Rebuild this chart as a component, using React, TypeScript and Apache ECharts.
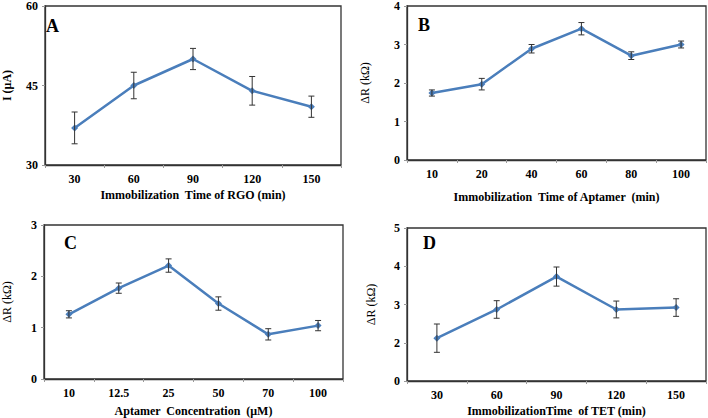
import React, { useEffect, useRef } from "react";
import * as echarts from "echarts";

const catsA = ["30", "60", "90", "120", "150"];
const valsA = [37, 45, 50, 44, 41];
const errA = [3, 2.5, 2, 2.7, 2];

const catsB = ["10", "20", "40", "60", "80", "100"];
const valsB = [1.74, 1.97, 2.89, 3.41, 2.71, 3.0];
const errB = [0.08, 0.15, 0.11, 0.16, 0.1, 0.09];

const catsC = ["10", "12.5", "25", "50", "70", "100"];
const valsC = [1.26, 1.77, 2.21, 1.47, 0.87, 1.04];
const errC = [0.07, 0.1, 0.13, 0.13, 0.11, 0.1];

const catsD = ["30", "60", "90", "120", "150"];
const valsD = [2.12, 2.87, 3.73, 2.87, 2.92];
const errD = [0.37, 0.23, 0.25, 0.22, 0.23];

const BLUE = "#4a7ebb";
const FONT = "'Liberation Serif', 'Times New Roman', serif";

function errData(vals: number[], errs: number[]) {
  return vals.map((v, i) => [i, v - errs[i], v + errs[i]]);
}

function renderErr(params: any, api: any) {
  const x = api.value(0);
  const lo = api.coord([x, api.value(1)]);
  const hi = api.coord([x, api.value(2)]);
  const w = 3;
  const style = { stroke: "#333", lineWidth: 1 };
  return {
    type: "group",
    children: [
      { type: "line", shape: { x1: lo[0], y1: lo[1], x2: hi[0], y2: hi[1] }, style },
      { type: "line", shape: { x1: lo[0] - w, y1: lo[1], x2: lo[0] + w, y2: lo[1] }, style },
      { type: "line", shape: { x1: hi[0] - w, y1: hi[1], x2: hi[0] + w, y2: hi[1] }, style },
    ],
  };
}

export default function App() {
  const ref = useRef<HTMLDivElement>(null);
  useEffect(() => {
    if (!ref.current) return;
    const chart = echarts.init(ref.current, null, { renderer: "svg" });
    const grids = [
      { left: 37, top: 6, width: 304, height: 159 },
      { left: 407, top: 6, width: 299, height: 154 },
      { left: 43, top: 225, width: 300, height: 154 },
      { left: 407, top: 228, width: 299, height: 153 },
    ].map((g) => ({ ...g, show: true, borderColor: "#333", borderWidth: 1.3, backgroundColor: "transparent" }));

    const xNames = [
      "Immobilization  Time of RGO (min)",
      "Immobilization  Time of Aptamer  (min)",
      "Aptamer  Concentration  (\u03bcM)",
      "ImmobilizationTime  of TET (min)",
    ];
    const xGaps = [24, 31, 26, 24];
    const catsAll = [catsA, catsB, catsC, catsD];
    const xAxis = catsAll.map((c, i) => ({
      type: "category",
      gridIndex: i,
      data: c,
      boundaryGap: true,
      name: xNames[i],
      nameLocation: "middle",
      nameGap: xGaps[i],
      nameTextStyle: { fontFamily: FONT, fontWeight: "bold", fontSize: 12, color: "#000" },
      axisLine: { show: true, lineStyle: { color: "#333", width: 1.3 } },
      axisTick: { show: true, alignWithLabel: false, length: 3, lineStyle: { color: "#999" } },
      axisLabel: { fontFamily: FONT, fontWeight: "bold", fontSize: 12, color: "#000", margin: 8 },
      splitLine: { show: false },
    }));

    const yCfg = [
      { min: 30, max: 60, interval: 15, name: "I (\u03bcA)", bold: true, gap: 32 },
      { min: 0, max: 4, interval: 1, name: "\u0394R (k\u03a9)", bold: false, gap: 36 },
      { min: 0, max: 3, interval: 1, name: "\u0394R (k\u03a9)", bold: false, gap: 31 },
      { min: 1, max: 5, interval: 1, name: "\u0394R (k\u03a9)", bold: false, gap: 30 },
    ];
    const yAxis = yCfg.map((y, i) => ({
      type: "value",
      gridIndex: i,
      min: y.min,
      max: y.max,
      interval: y.interval,
      name: y.name,
      nameLocation: "middle",
      nameGap: y.gap,
      nameRotate: 90,
      nameTextStyle: { fontFamily: FONT, fontWeight: y.bold ? "bold" : "normal", fontSize: 12, color: "#000" },
      axisLine: { show: true, lineStyle: { color: "#333", width: 1.3 } },
      axisTick: { show: true, length: 3, lineStyle: { color: "#999" } },
      axisLabel: {
        fontFamily: FONT,
        fontWeight: "bold",
        fontSize: 12,
        color: "#000",
        margin: 7,
        formatter: (v: number) => (i === 3 && v === 1 ? "0" : String(v)),
      },
      splitLine: { show: false },
    }));

    const valsAll = [valsA, valsB, valsC, valsD];
    const errsAll = [errA, errB, errC, errD];
    const series: any[] = [];
    valsAll.forEach((v, i) => {
      series.push({
        type: "line",
        xAxisIndex: i,
        yAxisIndex: i,
        data: v,
        symbol: "diamond",
        symbolSize: 7,
        itemStyle: { color: BLUE },
        lineStyle: { color: BLUE, width: 2.5 },
        z: 2,
      });
      series.push({
        type: "custom",
        xAxisIndex: i,
        yAxisIndex: i,
        data: errData(v, errsAll[i]),
        encode: { x: 0, y: [1, 2] },
        renderItem: renderErr,
        z: 3,
      });
    });

    const letter = (t: string, x: number, y: number) => ({
      type: "text",
      left: x,
      top: y,
      style: { text: t, fontFamily: FONT, fontWeight: "bold", fontSize: 18, fill: "#000" },
    });

    chart.setOption({
      animation: false,
      backgroundColor: "#fff",
      grid: grids,
      xAxis,
      yAxis,
      series,
      graphic: [letter("A", 46, 17), letter("B", 418, 16), letter("C", 64, 234), letter("D", 423, 234)],
    });
    return () => chart.dispose();
  }, []);
  return <div ref={ref} style={{ position: "absolute", left: 0, top: 0, width: 708, height: 418 }} />;
}
